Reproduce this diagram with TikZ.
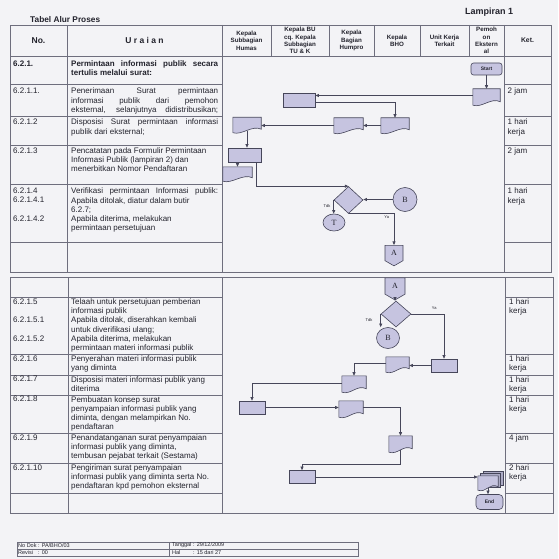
\documentclass[tikz,border=0pt]{standalone}
\usepackage{fontspec}
\setmainfont{Liberation Sans}
\newfontfamily\circfont{Liberation Serif}
\usetikzlibrary{arrows.meta, shapes.geometric, shapes.symbols, calc}
\definecolor{paper}{RGB}{243,243,246}
\definecolor{ink}{RGB}{35,35,45}
\definecolor{gridline}{RGB}{110,110,125}
\definecolor{shapeline}{RGB}{70,70,90}
\definecolor{shapefill}{RGB}{198,196,224}
\newcommand{\jline}[1]{\makebox[147pt][s]{#1}}

\begin{document}
\begin{tikzpicture}[x=1pt, y=-1pt, >={Triangle[length=3.6pt, width=3pt]},
  every node/.style={text=ink},
  txt/.style={anchor=north west, inner sep=0pt, align=left, font=\fontsize{8}{9.2}\selectfont},
  lane/.style={inner sep=0pt, align=center, font=\fontsize{6.2}{7.3}\selectfont\bfseries},
  foot/.style={anchor=west, inner sep=0pt, font=\fontsize{5.5}{6}\selectfont},
  rule/.style={draw=gridline, line width=0.7pt},
  proc/.style={draw=shapeline, fill=shapefill, line width=0.6pt, inner sep=0pt},
  doc/.style={inner sep=0pt},
  term/.style={proc, rounded corners=2.5pt, font=\fontsize{5}{5}\selectfont\bfseries},
  dec/.style={proc, diamond},
  conn/.style={proc, ellipse, font=\circfont\fontsize{8}{8}\selectfont},
  page/.style={proc, signal, signal to=south, signal pointer angle=120, font=\circfont\fontsize{8}{8}\selectfont},
  flow/.style={->, draw=shapeline, line width=0.7pt},
  tag/.style={inner sep=1pt, font=\fontsize{4}{4}\selectfont}]

\useasboundingbox (0,0) rectangle (558,559);
\fill[paper] (0,0) rectangle (558,559);

% tabel atas
\draw[rule] (10,25) rectangle (551,272) (10,56) -- (551,56);
\foreach \x in {67,222,504} \draw[rule] (\x,25) -- (\x,272);
\foreach \x in {271,329,374,420,469} \draw[rule] (\x,25) -- (\x,56);
\foreach \y in {84,116,145,184,242} \draw[rule] (10,\y) -- (222,\y) (504,\y) -- (551,\y);
% tabel bawah
\draw[rule] (10,277) rectangle (553,513);
\foreach \x in {68,222,505} \draw[rule] (\x,277) -- (\x,513);
\foreach \y in {297,354,375,395,433,463,493} \draw[rule] (10,\y) -- (222,\y) (505,\y) -- (553,\y);
% kaki
\draw[rule, line width=0.5pt] (17,542) rectangle (358,556) (17,549) -- (358,549) (169,542) -- (169,556);

\node[anchor=west, inner sep=0pt, font=\fontsize{8.3}{9}\selectfont\bfseries] (judul) at (30,19.5) {Tabel Alur Proses};
\node[anchor=west, inner sep=0pt, font=\fontsize{9}{10}\selectfont\bfseries] (lampiran) at (465,12.5) {Lampiran 1};

\node[font=\fontsize{8.5}{9}\selectfont\bfseries] (hno) at (38.5,40.5) {No.};
\node[font=\fontsize{8.5}{9}\selectfont\bfseries\addfontfeatures{LetterSpace=28}] (huraian) at (144.5,40.5) {Uraian};
\node[lane] (hhumas) at (246.5,40.5) {Kepala\\Subbagian\\Humas};
\node[lane] (hbu) at (300,40.5) {Kepala BU\\cq. Kepala\\Subbagian\\TU \& K};
\node[lane] (hhumpro) at (351.5,40.5) {Kepala\\Bagian\\Humpro};
\node[lane] (hbho) at (397,40.5) {Kepala\\BHO};
\node[lane] (hunit) at (444.5,40.5) {Unit Kerja\\Terkait};
\node[lane] (hpemohon) at (486.5,40.5) {Pemoh\\on\\Ekstern\\al};
\node[font=\fontsize{6.8}{7}\selectfont\bfseries] (hket) at (527.5,40.5) {Ket.};

\node[txt, font=\fontsize{8}{9.2}\selectfont\bfseries] (no0) at (13,60.5) {6.2.1.};
\node[txt, font=\fontsize{8}{9.2}\selectfont\bfseries] (ur0) at (71,60.5) {\jline{Permintaan informasi publik secara}\\tertulis melalui surat:};

\node[txt] (no1) at (13,88) {6.2.1.1.};
\node[txt] (ur1) at (71,88) {\jline{Penerimaan Surat permintaan}\\\jline{informasi publik dari pemohon}\\\jline{eksternal, selanjutnya didistribusikan;}};
\node[txt] (ket1) at (507.5,88) {2 jam};

\node[txt] (no2) at (13,119) {6.2.1.2};
\node[txt] (ur2) at (71,119) {\jline{Disposisi Surat permintaan informasi}\\publik dari eksternal;};
\node[txt] (ket2) at (507.5,119) {1 hari\\kerja};

\node[txt] (no3) at (13,147.5) {6.2.1.3};
\node[txt] (ur3) at (71,147.5) {Pencatatan pada Formulir Permintaan\\Informasi Publik (lampiran 2) dan\\menerbitkan Nomor Pendaftaran};
\node[txt] (ket3) at (507.5,147.5) {2 jam};

\node[txt] (no4) at (13,188) {6.2.1.4\\6.2.1.4.1\\[9.2pt]6.2.1.4.2};
\node[txt] (ur4) at (71,188) {\jline{Verifikasi permintaan Informasi publik:}\\Apabila ditolak, diatur dalam butir\\6.2.7;\\Apabila diterima, melakukan\\permintaan persetujuan};
\node[txt] (ket4) at (507.5,188) {1 hari\\kerja};

\node[txt] (no5) at (13,298.5) {6.2.1.5\\[9.2pt]6.2.1.5.1\\[9.2pt]6.2.1.5.2};
\node[txt] (ur5) at (71,298.5) {Telaah untuk persetujuan pemberian\\informasi publik\\Apabila ditolak, diserahkan kembali\\untuk diverifikasi ulang;\\Apabila diterima, melakukan\\permintaan materi informasi publik};
\node[txt] (ket5) at (509,298.5) {1 hari\\kerja};

\node[txt] (no6) at (13,355.5) {6.2.1.6};
\node[txt] (ur6) at (71,355.5) {Penyerahan materi informasi publik\\yang diminta};
\node[txt] (ket6) at (509,355.5) {1 hari\\kerja};

\node[txt] (no7) at (13,376) {6.2.1.7};
\node[txt] (ur7) at (71,376) {Disposisi materi informasi publik yang\\diterima};
\node[txt] (ket7) at (509,376) {1 hari\\kerja};

\node[txt] (no8) at (13,396) {6.2.1.8};
\node[txt] (ur8) at (71,396) {Pembuatan konsep surat\\penyampaian informasi publik yang\\diminta, dengan melampirkan No.\\pendaftaran};
\node[txt] (ket8) at (509,396) {1 hari\\kerja};

\node[txt] (no9) at (13,434.5) {6.2.1.9};
\node[txt] (ur9) at (71,434.5) {Penandatanganan surat penyampaian\\informasi publik yang diminta,\\tembusan pejabat terkait (Sestama)};
\node[txt] (ket9) at (509,434.5) {4 jam};

\node[txt] (no10) at (13,464.5) {6.2.1.10};
\node[txt] (ur10) at (71,464.5) {Pengiriman surat penyampaian\\informasi publik yang diminta serta No.\\pendaftaran kpd pemohon eksternal};
\node[txt] (ket10) at (509,464.5) {2 hari\\kerja};

\node[foot] (dok) at (18,545.5) {\makebox[20pt][l]{No Dok}: PA/BHO/03};
\node[foot] (revisi) at (18,552.5) {\makebox[20pt][l]{Revisi}: 00};
\node[foot] (tanggal) at (172,545.5) {\makebox[21pt][l]{Tanggal}: 29/12/2009};
\node[foot] (hal) at (172,552.5) {\makebox[21pt][l]{Hal}: 15 dari 27};

% bagan alir
\node[term, minimum width=31pt, minimum height=12pt] (start) at (486.5,69) {Start};
\node[doc, minimum width=27pt, minimum height=16pt] (d1) at (486.5,97) {};
\node[proc, minimum width=32pt, minimum height=14pt] (r1) at (299,100) {};
\node[doc, minimum width=28pt, minimum height=15pt] (d2) at (395,125.5) {};
\node[doc, minimum width=29pt, minimum height=15pt] (d3) at (348.5,125.5) {};
\node[doc, minimum width=28pt, minimum height=15pt] (d4) at (247,125) {};
\node[proc, minimum width=33pt, minimum height=14pt] (r2) at (244.5,155) {};
\node[doc, minimum width=29pt, minimum height=14pt] (d5) at (237.5,174) {};
\node[dec, minimum width=29pt, minimum height=27pt] (q1) at (348.5,200) {};
\node[conn, minimum width=24pt, minimum height=24pt] (b1) at (405,199.5) {B};
\node[conn, minimum width=22pt, minimum height=17pt] (t1) at (334,222.5) {T};
\node[page, minimum width=18pt, minimum height=17pt] (a1) at (394,253) {A};

\node[page, minimum width=20pt, minimum height=18pt] (a2) at (395,286) {A};
\node[dec, minimum width=30pt, minimum height=26pt] (q2) at (396,314) {};
\node[conn, minimum width=23pt, minimum height=21pt] (b2) at (388,338) {B};
\node[proc, minimum width=26pt, minimum height=13pt] (r3) at (444,365.5) {};
\node[doc, minimum width=23pt, minimum height=15pt] (d6) at (397.5,364.5) {};
\node[doc, minimum width=24pt, minimum height=16pt] (d7) at (354,384) {};
\node[proc, minimum width=26pt, minimum height=13pt] (r4) at (252,407.5) {};
\node[doc, minimum width=24pt, minimum height=16pt] (d8) at (351,409) {};
\node[doc, minimum width=23pt, minimum height=16pt] (d9) at (400.5,444) {};
\node[proc, minimum width=26pt, minimum height=13pt] (r5) at (302,477) {};
\node[doc, minimum width=20pt, minimum height=14pt] (md) at (488,483) {};
\node[term, rounded corners=4pt, minimum width=27pt, minimum height=15pt] (end) at (489.5,502) {End};

\foreach \s in {5,2.5}
  \draw[draw=shapeline, fill=shapefill!80!shapeline, line width=0.6pt] ([xshift=\s pt, yshift=\s pt]md.south west) rectangle ([xshift=\s pt, yshift=\s pt]md.north east);
\foreach \d in {d1,d2,d3,d4,d5,d6,d7,d8,d9,md}
  \draw[draw=shapeline, fill=shapefill, line width=0.6pt] (\d.north west) -- (\d.north east) -- ([yshift=3.5pt]\d.south east)
    .. controls ([xshift=-9pt, yshift=8pt]\d.south east) and ([xshift=9pt, yshift=-3pt]\d.south west) .. (\d.south west) -- cycle;

\draw[flow] (start.south) -- (start.south |- d1.north);
\draw[flow] ([yshift=1.5pt]d1.west) -- ([yshift=1.5pt]d1.west -| r1.east);
\draw[flow] ([yshift=-2.5pt]r1.east) -| (d2.north);
\draw[flow] (d2.west) -- (d2.west -| d3.east);
\draw[flow] (d3.west) -- (d3.west -| d4.east);
\draw[flow] ([yshift=2pt]d4.south) -- (d4.south |- r2.north);
\draw[flow] (r2.south -| d5.north) -- (d5.north);
\draw[flow] ([xshift=-5pt]r2.south east) |- (q1.north);
\draw[flow] (b1.west) -- (b1.west -| q1.east);
\draw[flow] (q1.west) -- (q1.west |- t1.north) node[tag, pos=0.45, left=2pt] {Tdk};
\draw[flow] (q1.south) -| (a1.north) node[tag, pos=0.42, below=1pt] {Ya};

\draw[flow] (a2.south) -- (a2.south |- q2.north);
\draw[flow] (q2.west) -- (q2.west |- b2.north) node[tag, pos=0.45, left=7pt] {Tdk};
\draw[flow] (q2.east) -| (r3.north) node[tag, pos=0.35, above=3pt] {Ya};
\draw[flow] (r3.west) -- (r3.west -| d6.east);
\draw[flow] ([yshift=1pt]d6.west) -| (d7.north);
\draw[flow] ([yshift=1pt]d7.west) -| (r4.north);
\draw[flow] (r4.east) -- (r4.east -| d8.west);
\draw[flow] ([yshift=1.5pt]d8.east) -| (d9.north);
\draw[flow] ([yshift=2pt]d9.south) -- ++(0,14) -| (r5.north);
\draw[flow] (r5.east) -- (r5.east -| md.west);
\draw[flow] ([yshift=2pt]md.south) -- (md.south |- end.north);
\end{tikzpicture}
\end{document}
